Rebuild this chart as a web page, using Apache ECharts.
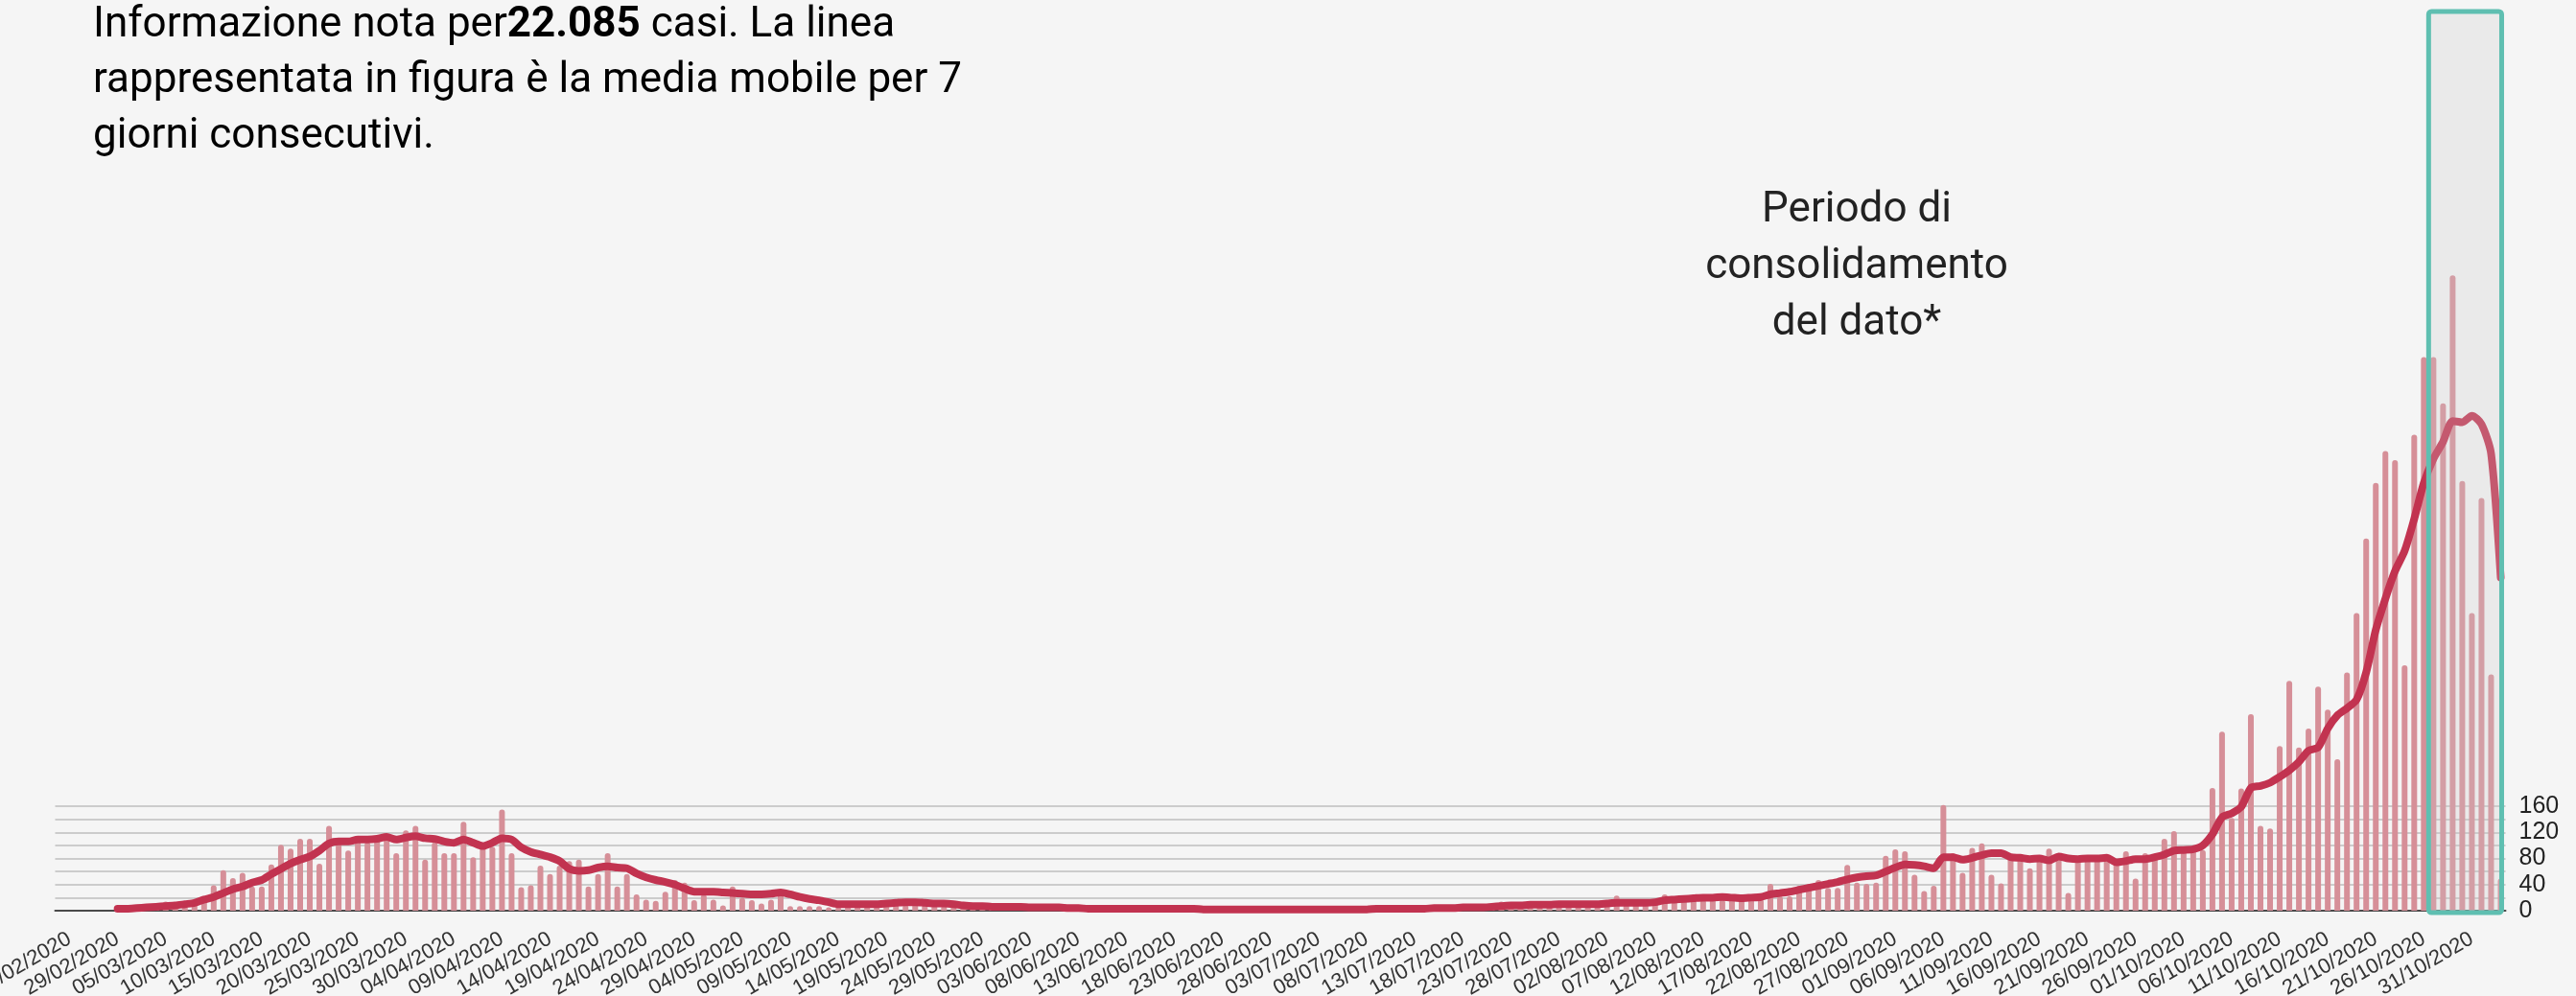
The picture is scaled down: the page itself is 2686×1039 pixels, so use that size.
<!DOCTYPE html>
<html>
<head>
<meta charset="utf-8">
<script src="https://cdn.jsdelivr.net/npm/echarts@6/dist/echarts.min.js"></script>
<style>
html,body{margin:0;padding:0;background:#f5f5f5;}
#chart{width:2686px;height:1039px;}
</style>
</head>
<body>
<div id="chart"></div>
<script>
// Daily categories: 23/02/2020 .. 03/11/2020
const startDate = new Date(2020, 1, 23);
const dayCount = 255;
const categories = [];
for (let i = 0; i < dayCount; i++) {
  const d = new Date(startDate.getFullYear(), startDate.getMonth(), startDate.getDate() + i);
  const dd = String(d.getDate()).padStart(2, '0');
  const mm = String(d.getMonth() + 1).padStart(2, '0');
  categories.push(dd + '/' + mm + '/' + d.getFullYear());
}

// Daily cases (bars), from 23/02/2020
const dailyCases = [
  0,
  0,0,0,0,0,1,2,3,4,5,
  14,6,8,16,18,39,62,50,58,37,
  37,71,101,95,110,110,72,130,105,92,
  110,105,110,115,88,123,130,78,105,88,
  88,136,82,98,98,155,88,36,39,69,
  56,69,76,78,37,56,88,37,56,25,
  17,15,29,47,43,16,25,17,8,37,
  20,16,11,17,32,7,7,7,7,5,
  6,9,11,8,12,10,16,9,14,12,
  11,8,10,6,7,5,6,5,6,5,
  4,2,3,5,2,1,3,2,4,1,
  2,3,1,2,4,2,1,3,2,1,
  2,3,1,2,1,3,2,1,2,4,
  2,1,3,2,1,2,4,3,2,5,
  3,4,6,3,5,7,4,6,8,14,
  9,7,10,12,8,10,9,12,8,10,
  11,23,10,12,11,13,25,16,20,18,
  17,19,17,22,20,20,18,41,22,22,
  38,41,47,35,35,70,43,41,43,84,
  94,91,55,30,38,162,88,58,96,103,
  55,42,84,86,65,80,95,86,27,83,
  78,81,83,76,91,49,88,86,110,122,
  93,95,93,188,274,142,187,301,130,126,
  252,352,250,279,343,308,232,365,456,570,
  655,704,690,376,729,848,848,777,973,658,
  456,632,362,49
];

// 7-day moving average line, from 23/02/2020
const movingAvg = [
  null,
  null,null,null,null,null,3,3,4,5,6,
  7,8,10,12,17,21,27,33,37,43,
  47,56,64,72,78,83,92,103,106,106,
  109,109,110,113,109,112,114,111,110,106,
  104,109,104,99,104,111,109,97,90,86,
  82,76,64,61,62,66,68,66,65,57,
  51,47,44,40,34,29,29,29,28,27,
  26,25,25,26,28,25,21,18,16,13,
  10,10,10,10,10,11,12,13,13,12,
  11,11,10,8,7,7,6,6,6,6,
  5,5,5,5,4,4,3,3,3,3,
  3,3,3,3,3,3,3,3,2,2,
  2,2,2,2,2,2,2,2,2,2,
  2,2,2,2,2,2,3,3,3,3,
  3,3,4,4,4,5,5,5,6,7,
  8,8,9,9,9,10,10,10,10,10,
  11,12,12,12,12,13,16,17,18,19,
  20,20,21,20,19,20,21,25,27,29,
  32,35,38,41,44,48,51,53,54,60,
  66,71,70,68,65,82,82,78,81,85,
  88,88,82,81,79,80,77,83,80,79,
  80,80,81,74,76,79,79,82,86,92,
  93,94,100,117,143,149,159,188,191,196,
  205,215,228,245,250,279,299,310,323,365,
  430,478,520,551,600,655,692,718,750,748,
  758,745,700,510
];

const yTickLabels = [0, 40, 80, 120, 160];
const gridTickMax = 160;
const yMax = 1380;
const boxRange = ['27/10/2020', '03/11/2020'];

const splitColors = [];
for (let v = 0; v <= yMax; v += 20) splitColors.push(v <= gridTickMax ? '#cccccc' : 'rgba(0,0,0,0)');

const chart = echarts.init(document.getElementById('chart'), null, {renderer: 'canvas'});
const option = {
  backgroundColor: '#f5f5f5',
  animation: false,
  grid: {left: 57.5, right: 73.5, top: 10, bottom: 89, containLabel: false, outerBoundsMode: 'none'},
  xAxis: {
    type: 'category',
    data: categories,
    boundaryGap: true,
    axisLine: {show: true, lineStyle: {color: '#4a4a4a', width: 2}},
    axisTick: {show: false},
    axisLabel: {
      interval: function (index) { return (index - 1) % 5 === 0; },
      rotate: 30,
      margin: 28,
      fontFamily: 'Liberation Sans, Arial, sans-serif',
      fontSize: 22,
      color: '#333333'
    },
    splitLine: {show: false}
  },
  yAxis: {
    type: 'value',
    position: 'right',
    min: 0,
    max: yMax,
    interval: 20,
    axisLine: {show: false},
    axisTick: {show: false},
    axisLabel: {
      margin: 14,
      fontFamily: 'Liberation Sans, Arial, sans-serif',
      fontSize: 25,
      color: '#222222',
      formatter: function (v) { return yTickLabels.indexOf(v) >= 0 ? String(v) : ''; }
    },
    splitLine: {show: true, lineStyle: {color: splitColors, width: 2}}
  },
  series: [
    {
      type: 'bar',
      data: dailyCases,
      barWidth: 6,
      itemStyle: {color: '#d68f98', borderRadius: [3, 3, 0, 0]},
      z: 2
    },
    {
      type: 'line',
      data: movingAvg,
      showSymbol: false,
      smooth: 0.25,
      connectNulls: false,
      lineStyle: {color: '#c23350', width: 8, cap: 'round', join: 'round'},
      z: 3
    },
    {
      type: 'custom',
      coordinateSystem: 'cartesian2d',
      data: [[categories.indexOf(boxRange[0]), categories.indexOf(boxRange[1])]],
      encode: {x: [0, 1]},
      clip: false,
      z: 5,
      renderItem: function (params, api) {
        const a = api.coord([api.value(0), 0]);
        const b = api.coord([api.value(1), 0]);
        const t = api.coord([api.value(0), yMax]);
        const band = api.size([1, 0])[0];
        const x0 = a[0] - band / 2;
        const x1 = b[0] + 1;
        const y0 = t[1] + 2;
        const y1 = a[1] + 2;
        return {
          type: 'rect',
          shape: {x: x0, y: y0, width: x1 - x0, height: y1 - y0, r: 3},
          style: {fill: 'rgba(205,205,205,0.25)', stroke: '#5fbfb1', lineWidth: 5}
        };
      }
    }
  ],
  graphic: [
    {
      type: 'text',
      left: 97,
      top: 5,
      z: 10,
      style: {
        text: '{a|Informazione nota per}{b|22.085}{a| casi. La linea}\n{a|rappresentata in figura è la media mobile per 7}\n{a|giorni consecutivi.}',
        rich: {
          a: {fontFamily: 'Roboto, sans-serif', fontSize: 44, fontWeight: 400, color: '#222222', lineHeight: 58},
          b: {fontFamily: 'Roboto, sans-serif', fontSize: 44, fontWeight: 700, color: '#111111', lineHeight: 58}
        }
      }
    },
    {
      type: 'text',
      x: 1936,
      y: 190,
      z: 10,
      style: {
        text: 'Periodo di\nconsolidamento\ndel dato*',
        fontFamily: 'Roboto, sans-serif',
        fontSize: 44,
        fontWeight: 400,
        lineHeight: 59,
        fill: '#222222',
        align: 'center',
        verticalAlign: 'top'
      }
    }
  ]
};
chart.setOption(option);
</script>
</body>
</html>
